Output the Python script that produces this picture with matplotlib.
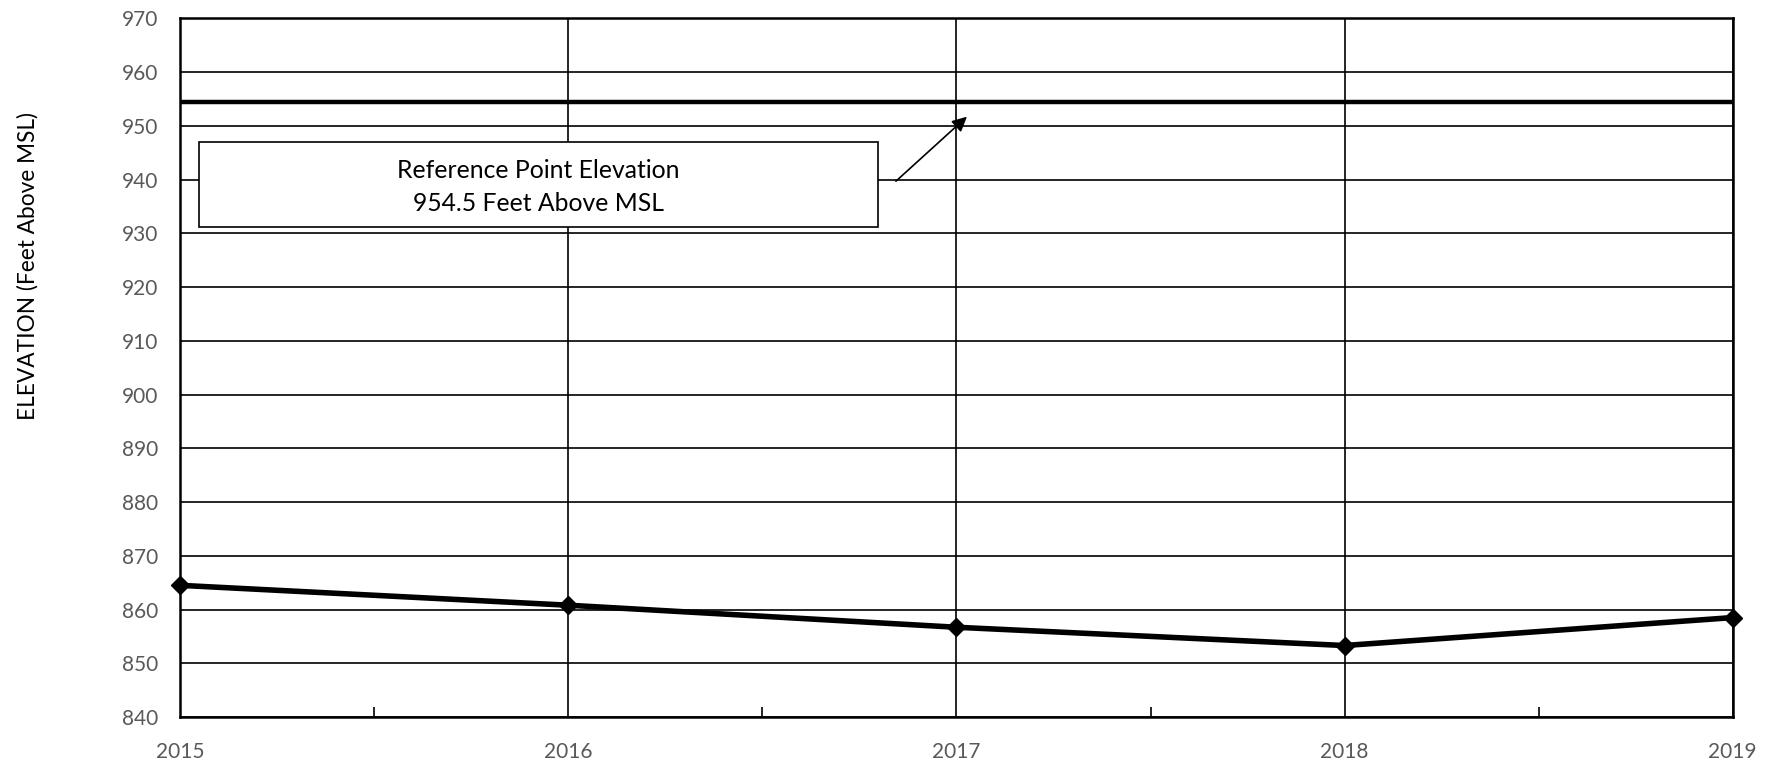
import matplotlib
matplotlib.use("Agg")
import matplotlib.pyplot as plt
from matplotlib.patches import Rectangle
from matplotlib.ticker import MultipleLocator

years = [2015, 2016, 2017, 2018, 2019]
elevation = [864.5, 860.8, 856.7, 853.3, 858.5]
reference_elev = 954.5
y_ticks = list(range(840, 971, 10))
x_ticks = years
ylabel = "ELEVATION (Feet Above MSL)"
note_lines = ["Reference Point Elevation", "954.5 Feet Above MSL"]

plt.rcParams['font.family'] = ['Lato', 'DejaVu Sans']

fig = plt.figure(figsize=(17.79, 7.64), dpi=100)
ax = fig.add_axes([0.1014, 0.0615, 0.8725, 0.9145])

ax.set_xlim(years[0], years[-1])
ax.set_ylim(y_ticks[0], y_ticks[-1])
ax.set_yticks(y_ticks)
ax.set_xticks(x_ticks)
ax.xaxis.set_minor_locator(MultipleLocator(0.5))

ax.grid(True, which='major', color='black', linewidth=1.2)
ax.set_axisbelow(True)

for s in ax.spines.values():
    s.set_linewidth(1.8)
    s.set_color('black')

ax.tick_params(axis='y', which='major', length=0, pad=16, labelsize=15, labelcolor='#595959')
ax.tick_params(axis='x', which='major', length=0, pad=18, labelsize=15, labelcolor='#595959')
ax.tick_params(axis='x', which='minor', direction='in', length=7, width=1.2, color='black')

ax.axhline(reference_elev, color='black', linewidth=3.2, zorder=3)

ax.plot(years, elevation, color='black', linewidth=4, marker='D', markersize=9,
        markerfacecolor='black', markeredgecolor='black', zorder=4, clip_on=False)

ax.set_ylabel(ylabel, fontsize=16.3, color='black')
ax.yaxis.set_label_coords(-0.0915, 0.645)

# annotation box
box_x0, box_x1 = 2015.047, 2016.798
box_y0, box_y1 = 931.2, 947.0
ax.add_patch(Rectangle((box_x0, box_y0), box_x1 - box_x0, box_y1 - box_y0,
                       facecolor='white', edgecolor='black', linewidth=1.2, zorder=5))
cx = (box_x0 + box_x1) / 2
ax.text(cx, 941.6, note_lines[0], ha='center', va='center', fontsize=17.8, zorder=6)
ax.text(cx, 935.5, note_lines[1], ha='center', va='center', fontsize=17.8, zorder=6)

ax.annotate('', xy=(2017.027, 951.7), xytext=(2016.844, 939.7),
            arrowprops=dict(arrowstyle='-|>', color='black', lw=1.2,
                            mutation_scale=22, shrinkA=0, shrinkB=0), zorder=6)

fig.savefig('out.png', dpi=100, facecolor='white')
